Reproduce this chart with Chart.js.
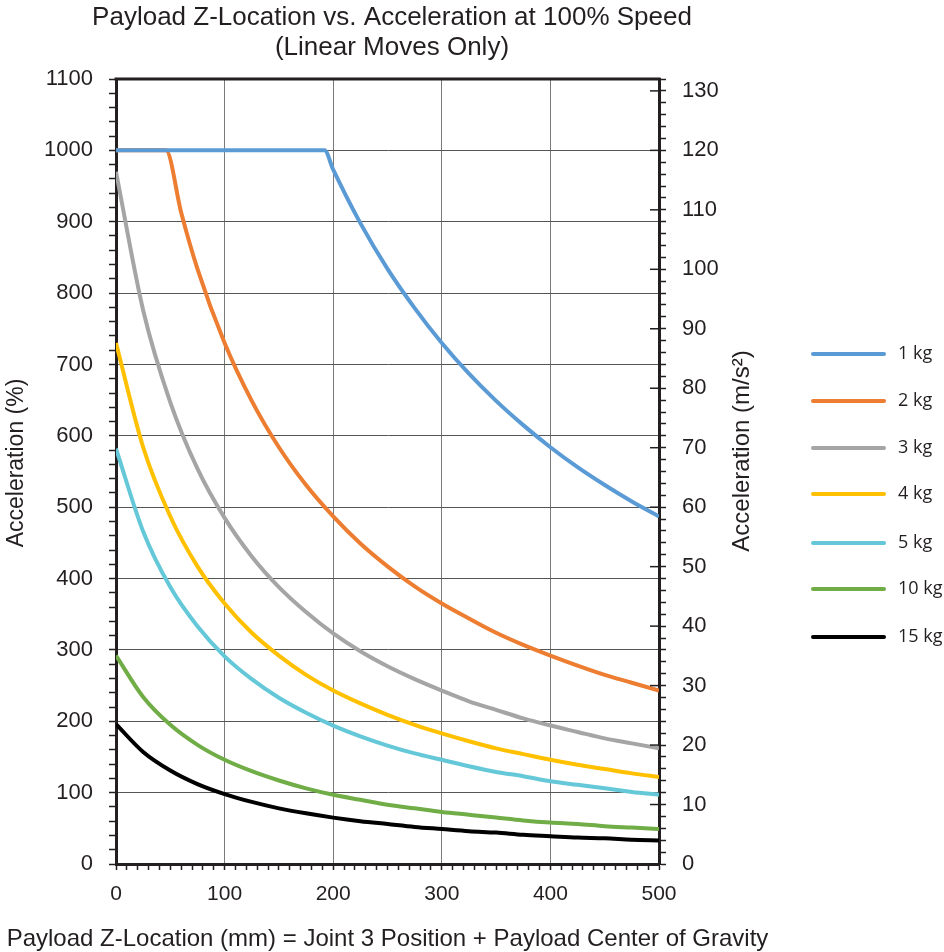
<!DOCTYPE html>
<html>
<head>
<meta charset="utf-8">
<script src="https://cdn.jsdelivr.net/npm/chart.js@4.4.1/dist/chart.umd.min.js"></script>
<style>
  body { margin: 0; background: #fff; }
  canvas { display: block; }
</style>
</head>
<body>
<canvas id="accChart" width="944" height="952"></canvas>
<script>
// values (z in mm, acceleration in %)
const zMm = [0, 25, 50, 75, 100, 125, 150, 175, 200, 225, 250, 275, 300, 325, 350, 375, 400, 425, 450, 475, 500];
const z1kg = [0, 192, 200, 225, 250, 275, 300, 325, 350, 375, 400, 425, 450, 475, 500];
const z2kg = [0, 46, 60, 75, 100, 125, 150, 175, 200, 225, 250, 275, 300, 325, 350, 375, 400, 425, 450, 475, 500];
const acc1kg = [1000, 1000, 973, 898, 834, 779, 730, 687, 649, 615, 584, 556, 531, 508, 487];
const acc2kg = [1000, 1000, 913, 834, 730, 649, 584, 531, 487, 449, 417, 389, 365, 344, 324, 307, 292, 278, 265, 254, 243];
const acc3kg = [970, 776, 647, 554, 485, 431, 388, 353, 323, 298, 277, 259, 243, 228, 216, 204, 194, 185, 176, 169, 162];
const acc4kg = [730, 584, 487, 417, 365, 324, 292, 265, 243, 225, 209, 195, 183, 172, 162, 154, 146, 139, 133, 127, 122];
const acc5kg = [582, 466, 388, 333, 291, 259, 233, 212, 194, 179, 166, 155, 146, 137, 129, 123, 116, 111, 106, 101, 97];
const acc10kg = [292, 234, 195, 167, 146, 130, 117, 106, 97, 90, 83, 78, 73, 69, 65, 61, 58, 56, 53, 51, 49];
const acc15kg = [196, 157, 131, 112, 98, 87, 78, 71, 65, 60, 56, 52, 49, 46, 44, 41, 39, 37, 36, 34, 33];
const seriesLabels = ["1 kg", "2 kg", "3 kg", "4 kg", "5 kg", "10 kg", "15 kg"];
const seriesColors = ["#5B9BD5", "#ED7D31", "#A5A5A5", "#FFC000", "#64C8D8", "#70AD47", "#000000"];
const titleLines = ["Payload Z-Location vs. Acceleration at 100% Speed", "(Linear Moves Only)"];

const ink = "#231F20";
const sansFont = "'Liberation Sans', Arial, sans-serif";
Chart.defaults.font.family = sansFont;
Chart.defaults.color = ink;

const toPoints = (xs, ys) => xs.map((x, i) => ({ x: x, y: ys[i] }));
const seriesData = [
  toPoints(z1kg, acc1kg),
  toPoints(z2kg, acc2kg),
  toPoints(zMm, acc3kg),
  toPoints(zMm, acc4kg),
  toPoints(zMm, acc5kg),
  toPoints(zMm, acc10kg),
  toPoints(zMm, acc15kg),
];

const frameExtras = {
  id: "frameExtras",
  afterDraw(chart) {
    const { ctx, chartArea: { left, top, right } } = chart;
    ctx.save();
    ctx.strokeStyle = ink;
    ctx.lineWidth = 3;
    ctx.beginPath();
    ctx.moveTo(left - 1.5, top);
    ctx.lineTo(right + 1.5, top);
    ctx.stroke();
    // right axis major ticks also reach into the plot
    const y2 = chart.scales.y2;
    ctx.lineWidth = 1.5;
    for (let v = 0; v <= 130; v += 10) {
      const py = y2.getPixelForValue(v);
      ctx.beginPath();
      ctx.moveTo(right - 9, py);
      ctx.lineTo(right, py);
      ctx.stroke();
    }
    ctx.restore();
  },
};

// titles drawn by hand: they are wider than the plot and the right one reads upwards
const chartTexts = {
  id: "chartTexts",
  afterDraw(chart) {
    const { ctx, chartArea: { left, right } } = chart;
    const rotated = (text, x, y, size) => {
      ctx.save();
      ctx.font = size + "px " + sansFont;
      ctx.translate(x, y);
      ctx.rotate(-Math.PI / 2);
      ctx.fillText(text, 0, 0);
      ctx.restore();
    };
    ctx.save();
    ctx.fillStyle = ink;
    ctx.textAlign = "center";
    ctx.textBaseline = "middle";
    ctx.font = "26px " + sansFont;
    ctx.fillText(titleLines[0], 392, 18);
    ctx.fillText(titleLines[1], 392, 48);
    ctx.font = "24px " + sansFont;
    ctx.fillText("Payload Z-Location (mm) = Joint 3 Position + Payload Center of Gravity", (left + right) / 2, 939);
    rotated("Acceleration (%)", 17, 463, 23);
    rotated("Acceleration (m/s²)", 742, 451, 24);
    ctx.restore();
  },
};

const sideLegend = {
  id: "sideLegend",
  afterDraw(chart) {
    const { ctx } = chart;
    const rowY = [354, 401, 448, 494, 543, 589, 637];
    ctx.save();
    ctx.font = "18px 'Open Sans', 'Liberation Sans', sans-serif";
    ctx.textBaseline = "middle";
    chart.data.datasets.forEach((ds, i) => {
      ctx.strokeStyle = ds.borderColor;
      ctx.lineWidth = 4;
      ctx.lineCap = "round";
      ctx.beginPath();
      ctx.moveTo(813, rowY[i]);
      ctx.lineTo(884, rowY[i]);
      ctx.stroke();
      ctx.fillStyle = ink;
      ctx.fillText(ds.label, 898, rowY[i]);
    });
    ctx.restore();
  },
};

const datasets = seriesData.map((pts, i) => ({
  label: seriesLabels[i],
  data: pts,
  borderColor: seriesColors[i],
  backgroundColor: seriesColors[i],
  borderWidth: 4,
  pointRadius: 0,
  cubicInterpolationMode: "monotone",
  xAxisID: "x",
  yAxisID: "y",
}));

new Chart(document.getElementById("accChart"), {
  type: "line",
  data: { datasets: datasets },
  plugins: [frameExtras, chartTexts, sideLegend],
  options: {
    responsive: false,
    animation: false,
    layout: { padding: { left: 0, right: 185, top: 79, bottom: 0 } },
    plugins: {
      legend: { display: false },
      tooltip: { enabled: false },
      title: { display: false },
    },
    scales: {
      x: {
        type: "linear",
        min: 0,
        max: 500,
        afterFit(scale) { scale.height = 88; },
        border: { color: ink, width: 3 },
        grid: {
          color: (c) => (c.tick.value % 100 === 0 ? "#7a7a7a" : "rgba(0,0,0,0)"),
          tickColor: ink,
          tickLength: 6,
          tickWidth: 1.5,
        },
        ticks: {
          stepSize: 10,
          autoSkip: false,
          maxRotation: 0,
          padding: 12,
          font: { size: 21 },
          callback: (v) => (v % 100 === 0 ? v : ""),
        },
      },
      y: {
        type: "linear",
        position: "left",
        min: 0,
        max: 1100,
        afterFit(scale) { scale.width = 116; },
        border: { color: ink, width: 3 },
        grid: {
          color: (c) => (c.tick.value % 100 === 0 && c.tick.value > 0 ? "#555555" : "rgba(0,0,0,0)"),
          tickColor: ink,
          tickLength: 7,
          tickWidth: 1.5,
        },
        ticks: {
          stepSize: 20,
          autoSkip: false,
          padding: 16,
          font: { size: 22 },
          callback: (v) => (v % 100 === 0 ? v : ""),
        },
      },
      y2: {
        type: "linear",
        position: "right",
        min: 0,
        max: 132,
        afterFit(scale) { scale.width = 100; },
        border: { color: ink, width: 3 },
        grid: {
          drawOnChartArea: false,
          tickColor: ink,
          tickLength: 7,
          tickWidth: 1.5,
        },
        ticks: {
          stepSize: 2,
          autoSkip: false,
          padding: 16,
          font: { size: 22 },
          callback: (v) => (v % 10 === 0 ? v : ""),
        },
      },
    },
  },
});
</script>
</body>
</html>
